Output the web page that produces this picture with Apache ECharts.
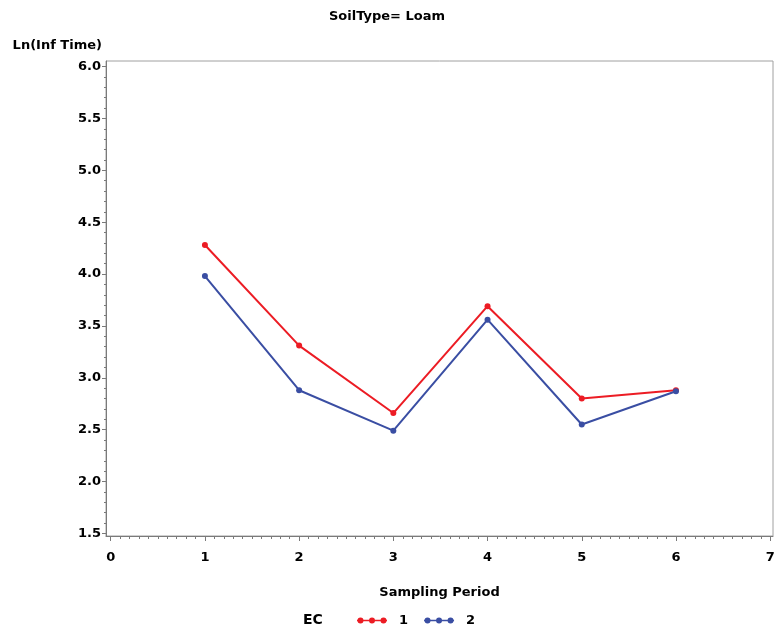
<!DOCTYPE html>
<html>
<head>
<meta charset="utf-8">
<script src="https://cdn.jsdelivr.net/npm/echarts@6/dist/echarts.min.js"></script>
<style>html,body{margin:0;padding:0;background:#fff;}#c{width:774px;height:632px;}</style>
</head>
<body>
<div id="c"></div>
<script>
const periods = [1, 2, 3, 4, 5, 6];
const ec1 = [4.28, 3.31, 2.66, 3.69, 2.80, 2.88];
const ec2 = [3.98, 2.88, 2.49, 3.56, 2.55, 2.87];
const xTicks = [0, 1, 2, 3, 4, 5, 6, 7];
const yTicks = [1.5, 2.0, 2.5, 3.0, 3.5, 4.0, 4.5, 5.0, 5.5, 6.0];

const X_MIN = -0.05, X_MAX = 7.03, Y_MIN = 1.475, Y_MAX = 6.053;
const xMinor = [], yMinor = [];
for (let i = 0; i <= 70; i++) { if (i % 10) xMinor.push(i / 10); }
for (let i = 15; i <= 60; i++) { if (i % 5) yMinor.push(i / 10); }

const wide = 'DejaVu Sans, Liberation Sans, sans-serif';
const RED = '#ec1c24', BLUE = '#3a4ea3';
const axisCol = '#7a7a7a';
const legendIcon = 'path://M0,2.2 L30,2.2 L30,3.8 L0,3.8 Z ' +
  'M0.5,3 A3,3 0 1,1 6.5,3 A3,3 0 1,1 0.5,3 Z ' +
  'M12,3 A3,3 0 1,1 18,3 A3,3 0 1,1 12,3 Z ' +
  'M23.5,3 A3,3 0 1,1 29.5,3 A3,3 0 1,1 23.5,3 Z';

const chart = echarts.init(document.getElementById('c'), null, {renderer: 'canvas'});
chart.setOption({
  animation: false,
  backgroundColor: '#fff',
  title: [
    {text: 'SoilType= Loam', left: 'center', top: 5, textStyle: {fontFamily: wide, fontSize: 13, fontWeight: 'bold', color: '#000'}},
    {text: 'EC', left: 303, top: 613, padding: 0, textStyle: {fontFamily: wide, fontSize: 14, fontWeight: 'bold', color: '#000'}}
  ],
  grid: {left: 106, right: 1, top: 61, bottom: 96, show: true, borderColor: '#a0a0a0', borderWidth: 1, containLabel: false, outerBoundsMode: 'none'},
  legend: {
    left: 352, top: 609, itemWidth: 30, itemHeight: 6, itemGap: 16,
    icon: legendIcon,
    textStyle: {fontFamily: wide, fontSize: 13, fontWeight: 'bold', color: '#000', padding: [0, 0, 0, 7]},
    data: [{name: '1', itemStyle: {color: RED}}, {name: '2', itemStyle: {color: BLUE}}]
  },
  xAxis: [
    {
      type: 'value', min: X_MIN, max: X_MAX,
      name: 'Sampling Period', nameLocation: 'middle', nameGap: 50,
      nameTextStyle: {fontFamily: wide, fontSize: 13, fontWeight: 'bold', color: '#000'},
      axisLine: {show: true, onZero: false, lineStyle: {color: axisCol, width: 1}},
      axisTick: {show: true, customValues: xTicks, length: 5, lineStyle: {color: axisCol}},
      axisLabel: {show: true, customValues: xTicks, margin: 15, fontFamily: wide, fontSize: 13, fontWeight: 'bold', color: '#000'},
      splitLine: {show: false}
    },
    {
      type: 'value', min: X_MIN, max: X_MAX, position: 'bottom',
      axisLine: {show: false, onZero: false},
      axisTick: {show: true, customValues: xMinor, length: 3, lineStyle: {color: axisCol}},
      axisLabel: {show: false},
      splitLine: {show: false}
    }
  ],
  yAxis: [
    {
      type: 'value', min: Y_MIN, max: Y_MAX,
      name: 'Ln(Inf Time)', nameLocation: 'end', nameGap: 9,
      nameTextStyle: {fontFamily: wide, fontSize: 13, fontWeight: 'bold', color: '#000', align: 'right', padding: [0, 4, 0, 0]},
      axisLine: {show: true, onZero: false, lineStyle: {color: axisCol, width: 1}},
      axisTick: {show: true, customValues: yTicks, length: 4, lineStyle: {color: axisCol}},
      axisLabel: {show: true, customValues: yTicks, margin: 5, fontFamily: wide, fontSize: 13, fontWeight: 'bold', color: '#000', formatter: v => v.toFixed(1)},
      splitLine: {show: false}
    },
    {
      type: 'value', min: Y_MIN, max: Y_MAX, position: 'left',
      axisLine: {show: false, onZero: false},
      axisTick: {show: true, customValues: yMinor, length: 2, lineStyle: {color: axisCol}},
      axisLabel: {show: false},
      splitLine: {show: false}
    }
  ],
  series: [
    {
      name: '1', type: 'line', xAxisIndex: 0, yAxisIndex: 0,
      data: periods.map((p, i) => [p, ec1[i]]),
      symbol: 'circle', symbolSize: 6,
      lineStyle: {color: RED, width: 2}, itemStyle: {color: RED}
    },
    {
      name: '2', type: 'line', xAxisIndex: 0, yAxisIndex: 0,
      data: periods.map((p, i) => [p, ec2[i]]),
      symbol: 'circle', symbolSize: 6,
      lineStyle: {color: BLUE, width: 2}, itemStyle: {color: BLUE}
    }
  ]
});
</script>
</body>
</html>
